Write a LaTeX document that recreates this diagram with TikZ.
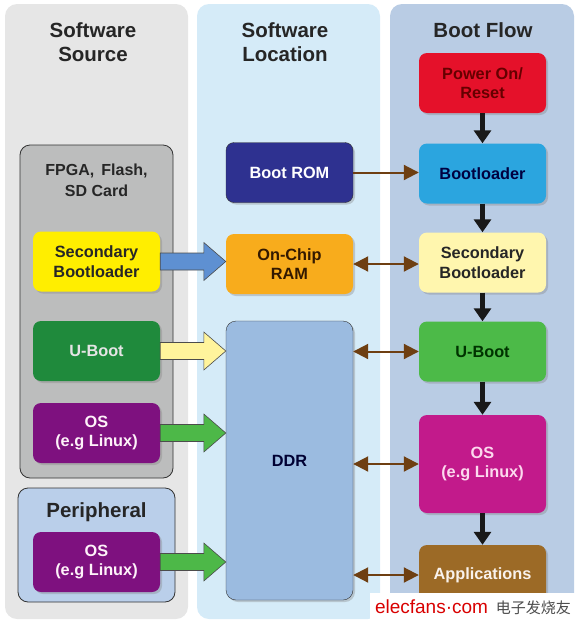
\documentclass[tikz,border=0pt]{standalone}
\usepackage{fontspec}
\setmainfont{Liberation Sans}
\newfontfamily\cjk{Noto Sans CJK SC}
\usepackage{tikz}
\usetikzlibrary{calc,arrows.meta,shadows}

\definecolor{panelgray}{HTML}{E6E6E6}
\definecolor{panelblue}{HTML}{D5EBF8}
\definecolor{panelflow}{HTML}{B9CCE4}
\definecolor{srcgray}{HTML}{BCBDBD}
\definecolor{perblue}{HTML}{BACFEA}
\definecolor{yel}{HTML}{FFEE00}
\definecolor{dgreen}{HTML}{1F8A3C}
\definecolor{purp}{HTML}{7E117F}
\definecolor{romblue}{HTML}{2E3190}
\definecolor{ramorange}{HTML}{F8AC1C}
\definecolor{ddrblue}{HTML}{9BBBE0}
\definecolor{pwrred}{HTML}{E5112A}
\definecolor{bootblue}{HTML}{2BA5DF}
\definecolor{lyel}{HTML}{FFF6AE}
\definecolor{lgreen}{HTML}{4CBA48}
\definecolor{magent}{HTML}{C21A8B}
\definecolor{appbrown}{HTML}{9C6A26}
\definecolor{arrbrown}{HTML}{6E3F12}
\definecolor{arrblue}{HTML}{5E90D2}
\definecolor{arryel}{HTML}{FFF49C}
\definecolor{arrgreen}{HTML}{4DB848}

\tikzset{
	box/.style={rounded corners=8pt, minimum width=127pt, minimum height=60pt, align=center,
		font=\fontsize{16.3}{19.5}\selectfont\bfseries,
		drop shadow={opacity=0.35, shadow xshift=2pt, shadow yshift=-2pt}},
	title/.style={align=center, font=\fontsize{20.5}{24}\selectfont\bfseries, text=black!85},
	flow/.style={line width=4.5pt, -{Triangle[width=17pt,length=13pt]}, black!90},
	bus/.style={line width=2pt, arrbrown, {Triangle[width=15pt,length=15pt]}-{Triangle[width=15pt,length=15pt]}},
	load/.style={line width=2pt, arrbrown, -{Triangle[width=15pt,length=15pt]}},
}

% block arrow from the east side of #1 to the west side of #2, filled with #3
\newcommand{\blockarrow}[3]{
	\coordinate (tip) at (#2.west |- #1.east);
	\draw[black!70, fill=#3, line width=0.6pt]
		($(#1.east)+(0,-8.5)$) -- ($(tip)+(-22,-8.5)$) -- ($(tip)+(-22,-19)$) -- (tip)
		-- ($(tip)+(-22,19)$) -- ($(tip)+(-22,8.5)$) -- ($(#1.east)+(0,8.5)$) -- cycle;
}

\begin{document}
\begin{tikzpicture}[x=1pt,y=-1pt]
	\useasboundingbox (0,0) rectangle (584,627);
	%three background columns
	\fill[panelgray, rounded corners=12pt] (5,4) rectangle (188,619);
	\fill[panelblue, rounded corners=12pt] (197,4) rectangle (380,619);
	\fill[panelflow, rounded corners=12pt] (390,4) rectangle (574,619);
	\node[title] (tsrc) at (93,42) {Software\\Source};
	\node[title] (tloc) at (285,42) {Software\\Location};
	\node[title] (tflow) at (483,30) {Boot Flow};

	%% software source
	\draw[black!80, fill=srcgray, rounded corners=10pt, line width=0.8pt] (20,145) rectangle (173,478);
	\node[title, font=\fontsize{16}{20.5}\selectfont\bfseries] (fpga) at (96.5,180.5) {FPGA,\, Flash,\\SD Card};
	\draw[black!80, fill=perblue, rounded corners=10pt, line width=0.8pt] (18,488) rectangle (175,602);
	\node[title] (per) at (96.5,512) {Peripheral};
	\node[box, fill=yel, text=black!85] (sb1) at (96.5,261.5) {Secondary\\Bootloader};
	\node[box, fill=dgreen, text=black!10] (ub1) at (96.5,351) {U-Boot};
	\node[box, fill=purp, text=white!95!magenta] (os1) at (96.5,433) {OS\\(e.g Linux)};
	\node[box, fill=purp, text=white!95!magenta] (os2) at (96.5,562) {OS\\(e.g Linux)};

	%% software location
	\node[box, fill=romblue, draw=black!80, text=white] (rom) at (289.5,172.5) {Boot ROM};
	\node[box, fill=ramorange, text=black!80!orange] (ram) at (289.5,264) {On-Chip\\RAM};
	\node[box, fill=ddrblue, draw=black!80, rounded corners=10pt, minimum height=279pt, text=black!80!blue] (ddr) at (289.5,460.5) {DDR};

	%% boot flow
	\node[box, fill=pwrred, text=black!60!red] (pwr) at (482.5,83) {Power On/\\Reset};
	\node[box, fill=bootblue, text=black!75!blue] (boot) at (482.5,173.5) {Bootloader};
	\node[box, fill=lyel, text=black!85] (sb2) at (482.5,262.5) {Secondary\\Bootloader};
	\node[box, fill=lgreen, text=black!80!green] (ub2) at (482.5,351.5) {U-Boot};
	\node[box, fill=magent, minimum height=98pt, text=white!85!magenta] (os3) at (482.5,464) {OS\\(e.g Linux)};
	\node[box, fill=appbrown, text=white!90!brown] (app) at (482.5,575) {Applications};

	%% flow arrows down the right column
	\foreach \a/\b in {pwr/boot,boot/sb2,sb2/ub2,ub2/os3,os3/app}
		\draw[flow] (\a) -- (\b);

	%% brown arrows into the boot flow
	\draw[load] (rom.east) -- (rom.east -| boot.west);
	\draw[bus] (ram.east) -- (ram.east -| sb2.west);
	\foreach \n in {ub2,os3,app}
		\draw[bus] (ddr.east |- \n.west) -- (\n.west);

	%% block arrows from source to location
	\blockarrow{sb1}{ram}{arrblue}
	\blockarrow{ub1}{ddr}{arryel}
	\blockarrow{os1}{ddr}{arrgreen}
	\blockarrow{os2}{ddr}{arrgreen}

	%watermark
	\node[fill=white, minimum width=206pt, minimum height=28pt, inner sep=2pt] (wm) at (473,607)
		{\textcolor{red!85!black}{\fontsize{19}{20}\selectfont elecfans{\textperiodcentered}com}\hspace{8pt}{\cjk\fontsize{15}{16}\selectfont\color{black!70}电子发烧友}};
\end{tikzpicture}
\end{document}
